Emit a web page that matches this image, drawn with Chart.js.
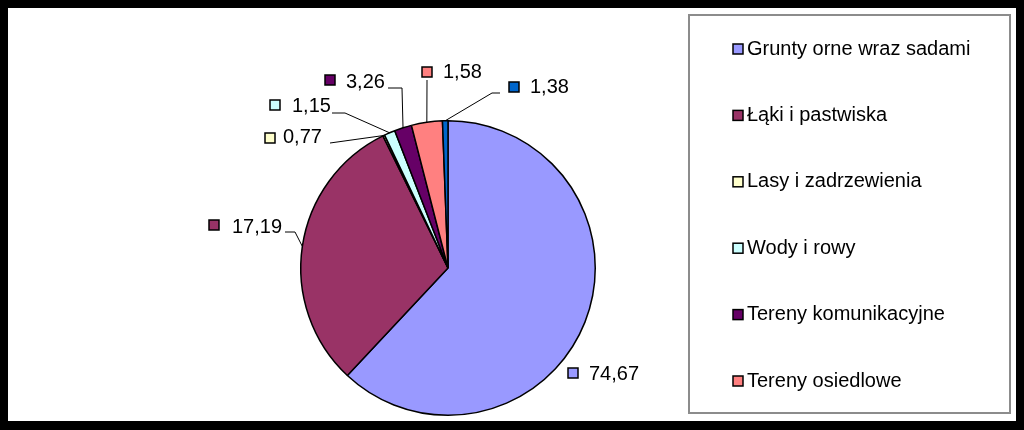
<!DOCTYPE html>
<html>
<head>
<meta charset="utf-8">
<script src="https://cdn.jsdelivr.net/npm/chart.js@4/dist/chart.umd.min.js"></script>
<style>
  html, body { margin: 0; padding: 0; background: #000; }
  #wrap { position: absolute; left: 8px; top: 8px; width: 1008px; height: 413px; background: #fff; }
  canvas { display: block; }
</style>
</head>
<body>
<div id="wrap"><canvas id="pie" width="1008" height="413"></canvas></div>
<script>
/* ---------- DATA ---------- */
const categories = [
  'Grunty orne wraz sadami',
  'Łąki i pastwiska',
  'Lasy i zadrzewienia',
  'Wody i rowy',
  'Tereny komunikacyjne',
  'Tereny osiedlowe',
  'Inne'
];
// slice sizes as drawn in the picture
const sliceValues = [62.1, 30.8, 0.2, 1.2, 1.9, 3.4, 0.6];
// the numbers printed next to the slices
const labelTexts = ['74,67', '17,19', '0,77', '1,15', '3,26', '1,58', '1,38'];
const colors = ['#9999FF', '#993366', '#FFFFCC', '#CCFFFF', '#660066', '#FF8080', '#0066CC'];
const legendCount = 6; // the legend box only shows the first six

/* ---------- LABEL LAYOUT (canvas px) ---------- */
// square pos, text pos, leader start + elbow (null = no leader)
const labelLayout = [
  { sq: [560, 360], tx: [581, 366], lead: null },
  { sq: [201, 212], tx: [224, 219], lead: [[277, 224], [287, 224]] },
  { sq: [257, 125], tx: [275, 129], lead: [[322, 135], [322, 135]] },
  { sq: [262, 92],  tx: [284, 98],  lead: [[324, 105], [337, 105]] },
  { sq: [317, 67],  tx: [338, 74],  lead: [[380, 80], [394, 80]] },
  { sq: [414, 59],  tx: [435, 64],  lead: [[419, 72], [419, 72]] },
  { sq: [501, 74],  tx: [522, 79],  lead: [[492, 85], [484, 85]] }
];

const FONT = '20px "Liberation Sans", Arial, sans-serif';

/* ---------- PLUGIN: data labels with leader lines ---------- */
const pieLabels = {
  id: 'pieLabels',
  afterDraw(chart) {
    const ctx = chart.ctx;
    const arcs = chart.getDatasetMeta(0).data;
    ctx.save();
    arcs.forEach((arc, i) => {
      const L = labelLayout[i];
      const p = arc.getProps(['x', 'y', 'startAngle', 'endAngle', 'outerRadius'], true);
      const mid = (p.startAngle + p.endAngle) / 2;
      const ex = p.x + Math.cos(mid) * p.outerRadius;
      const ey = p.y + Math.sin(mid) * p.outerRadius;
      if (L.lead) {
        ctx.strokeStyle = '#000';
        ctx.lineWidth = 1;
        ctx.beginPath();
        ctx.moveTo(L.lead[0][0], L.lead[0][1]);
        ctx.lineTo(L.lead[1][0], L.lead[1][1]);
        ctx.lineTo(ex, ey);
        ctx.stroke();
      }
      ctx.fillStyle = colors[i];
      ctx.fillRect(L.sq[0], L.sq[1], 10, 10);
      ctx.strokeStyle = '#000';
      ctx.lineWidth = 1.5;
      ctx.strokeRect(L.sq[0], L.sq[1], 10, 10);
      ctx.fillStyle = '#000';
      ctx.font = FONT;
      ctx.textBaseline = 'middle';
      ctx.textAlign = 'left';
      ctx.fillText(labelTexts[i], L.tx[0], L.tx[1]);
    });
    ctx.restore();
  }
};

/* ---------- PLUGIN: boxed legend ---------- */
const boxLegend = {
  id: 'boxLegend',
  afterDraw(chart) {
    const ctx = chart.ctx;
    ctx.save();
    ctx.strokeStyle = '#8c8c8c';
    ctx.lineWidth = 2;
    ctx.strokeRect(681, 7, 321, 398);
    ctx.font = FONT;
    ctx.textBaseline = 'middle';
    for (let i = 0; i < legendCount; i++) {
      const y = 41 + i * 66.4;
      ctx.fillStyle = colors[i];
      ctx.fillRect(725, y - 5, 10, 10);
      ctx.strokeStyle = '#000';
      ctx.lineWidth = 1.5;
      ctx.strokeRect(725, y - 5, 10, 10);
      ctx.fillStyle = '#000';
      ctx.fillText(categories[i], 739, y);
    }
    ctx.restore();
  }
};

new Chart(document.getElementById('pie'), {
  type: 'pie',
  data: {
    labels: categories,
    datasets: [{
      data: sliceValues,
      backgroundColor: colors,
      borderColor: '#000',
      borderWidth: 1.5
    }]
  },
  options: {
    responsive: false,
    animation: false,
    layout: { padding: { left: 292, right: 420, top: 112, bottom: 5 } },
    plugins: { legend: { display: false }, tooltip: { enabled: false } }
  },
  plugins: [pieLabels, boxLegend]
});
</script>
</body>
</html>
